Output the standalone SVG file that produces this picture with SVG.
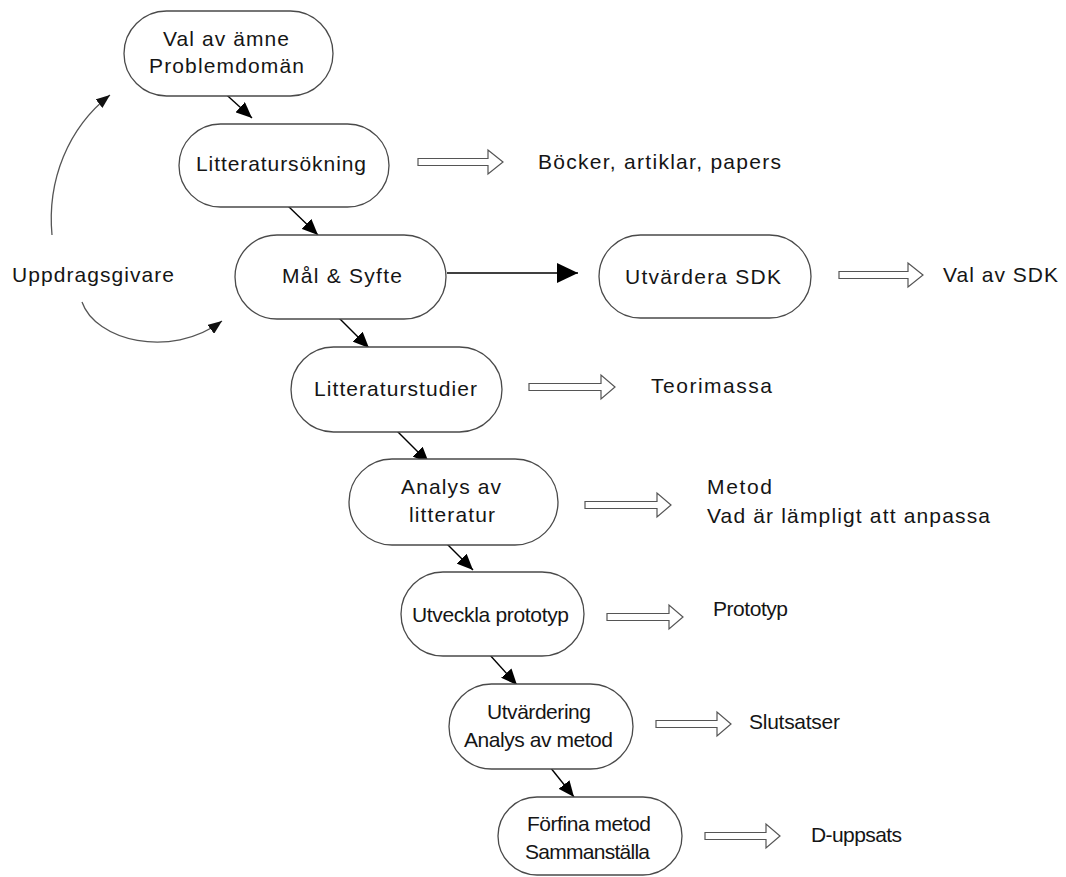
<svg xmlns="http://www.w3.org/2000/svg" width="1066" height="877" viewBox="0 0 1066 877">
<style>
.node rect{fill:#fff;stroke:#4a4a4a;stroke-width:1.3}
text{font-family:"Liberation Sans",Arial,sans-serif;font-size:21px;fill:#151515}
.c{text-anchor:middle}
.ln{stroke:#000;stroke-width:1.4;fill:none}
.arc{stroke:#555;stroke-width:1.3;fill:none}
.blk{fill:#fff;stroke:#555;stroke-width:1.2}
</style>
<defs>
<marker id="ah" viewBox="0 0 16 14" refX="16" refY="7" markerWidth="16" markerHeight="14" orient="auto" markerUnits="userSpaceOnUse"><path d="M0,0 L16,7 L0,14 Z" fill="#000"/></marker>
<marker id="ah2" viewBox="0 0 21 20" refX="21" refY="10" markerWidth="21" markerHeight="20" orient="auto" markerUnits="userSpaceOnUse"><path d="M0,0 L21,10 L0,20 Z" fill="#000"/></marker>
<marker id="ah3" viewBox="0 0 14 11" refX="14" refY="5.5" markerWidth="14" markerHeight="11" orient="auto" markerUnits="userSpaceOnUse"><path d="M0,0 L14,5.5 L0,11 Z" fill="#111"/></marker>
</defs>
<rect width="1066" height="877" fill="#fff"/>

<g id="connectors">
<line class="ln" x1="219" y1="88" x2="252" y2="118" marker-end="url(#ah)"/>
<line class="ln" x1="288" y1="206" x2="318" y2="235" marker-end="url(#ah)"/>
<line class="ln" x1="339" y1="318" x2="369" y2="348" marker-end="url(#ah)"/>
<line class="ln" x1="397" y1="431" x2="429" y2="463" marker-end="url(#ah)"/>
<line class="ln" x1="443" y1="540" x2="473" y2="570" marker-end="url(#ah)"/>
<line class="ln" x1="489" y1="654" x2="517" y2="685" marker-end="url(#ah)"/>
<line class="ln" x1="550" y1="767" x2="574" y2="797" marker-end="url(#ah)"/>
<line class="ln" x1="447" y1="273" x2="578" y2="273" marker-end="url(#ah2)"/>
<path class="arc" d="M52,235 C47,180 68,128 110,95" marker-end="url(#ah3)"/>
<path class="arc" d="M82,302 C95,340 170,360 222,321" marker-end="url(#ah3)"/>
<path class="blk" d="M418,158.5 L488,158.5 L488,150 L503,162 L488,174 L488,165.5 L418,165.5 Z"/>
<path class="blk" d="M839,271.5 L908,271.5 L908,263 L923,275 L908,287 L908,278.5 L839,278.5 Z"/>
<path class="blk" d="M529,383.5 L601,383.5 L601,375 L615,387 L601,399 L601,390.5 L529,390.5 Z"/>
<path class="blk" d="M585,501.5 L657,501.5 L657,493 L671,505 L657,517 L657,508.5 L585,508.5 Z"/>
<path class="blk" d="M607,613.5 L669,613.5 L669,605 L683,617 L669,629 L669,620.5 L607,620.5 Z"/>
<path class="blk" d="M656,720.5 L717,720.5 L717,712 L731,724 L717,736 L717,727.5 L656,727.5 Z"/>
<path class="blk" d="M705,832.5 L766,832.5 L766,824 L780,836 L766,848 L766,839.5 L705,839.5 Z"/>
</g>

<g id="n-val" class="node"><rect x="124" y="11" width="209" height="85" rx="42.5"/><text class="c" x="226" y="46" textLength="126">Val av ämne</text><text class="c" x="226.5" y="73" textLength="155">Problemdomän</text></g>
<g id="n-litsok" class="node"><rect x="179" y="124" width="210" height="83" rx="41.5"/><text class="c" x="281" y="171" textLength="170">Litteratursökning</text></g>
<g id="n-mal" class="node"><rect x="235" y="235" width="211" height="84" rx="42"/><text class="c" x="342" y="283" textLength="120">Mål &amp; Syfte</text></g>
<g id="n-sdk" class="node"><rect x="599" y="235" width="212" height="83" rx="41.5"/><text class="c" x="703" y="284" textLength="156">Utvärdera SDK</text></g>
<g id="n-litstud" class="node"><rect x="291" y="347" width="211" height="85" rx="42.5"/><text class="c" x="395.5" y="396" textLength="163">Litteraturstudier</text></g>
<g id="n-analys" class="node"><rect x="349" y="459" width="209" height="86" rx="43"/><text class="c" x="451" y="494" textLength="100">Analys av</text><text class="c" x="452" y="522" textLength="86">litteratur</text></g>
<g id="n-utveckla" class="node"><rect x="401" y="572" width="183" height="84" rx="42"/><text class="c" x="490.5" y="622" textLength="157">Utveckla prototyp</text></g>
<g id="n-utvardering" class="node"><rect x="449" y="684" width="184" height="85" rx="42.5"/><text class="c" x="539" y="719" textLength="104">Utvärdering</text><text class="c" x="538.5" y="747" textLength="149">Analys av metod</text></g>
<g id="n-forfina" class="node"><rect x="498" y="797" width="184" height="78" rx="39"/><text class="c" x="589" y="831" textLength="124">Förfina metod</text><text class="c" x="587.5" y="859" textLength="125">Sammanställa</text></g>

<g id="labels">
<text x="12" y="282" textLength="162">Uppdragsgivare</text>
<text x="538" y="169" textLength="243">Böcker, artiklar, papers</text>
<text x="943" y="282" textLength="115">Val av SDK</text>
<text x="651" y="393" textLength="121">Teorimassa</text>
<text x="707" y="494" textLength="65">Metod</text>
<text x="707" y="523" textLength="283">Vad är lämpligt att anpassa</text>
<text x="713" y="616" textLength="75">Prototyp</text>
<text x="749" y="729" textLength="91">Slutsatser</text>
<text x="811" y="842" textLength="91">D-uppsats</text>
</g>
</svg>
